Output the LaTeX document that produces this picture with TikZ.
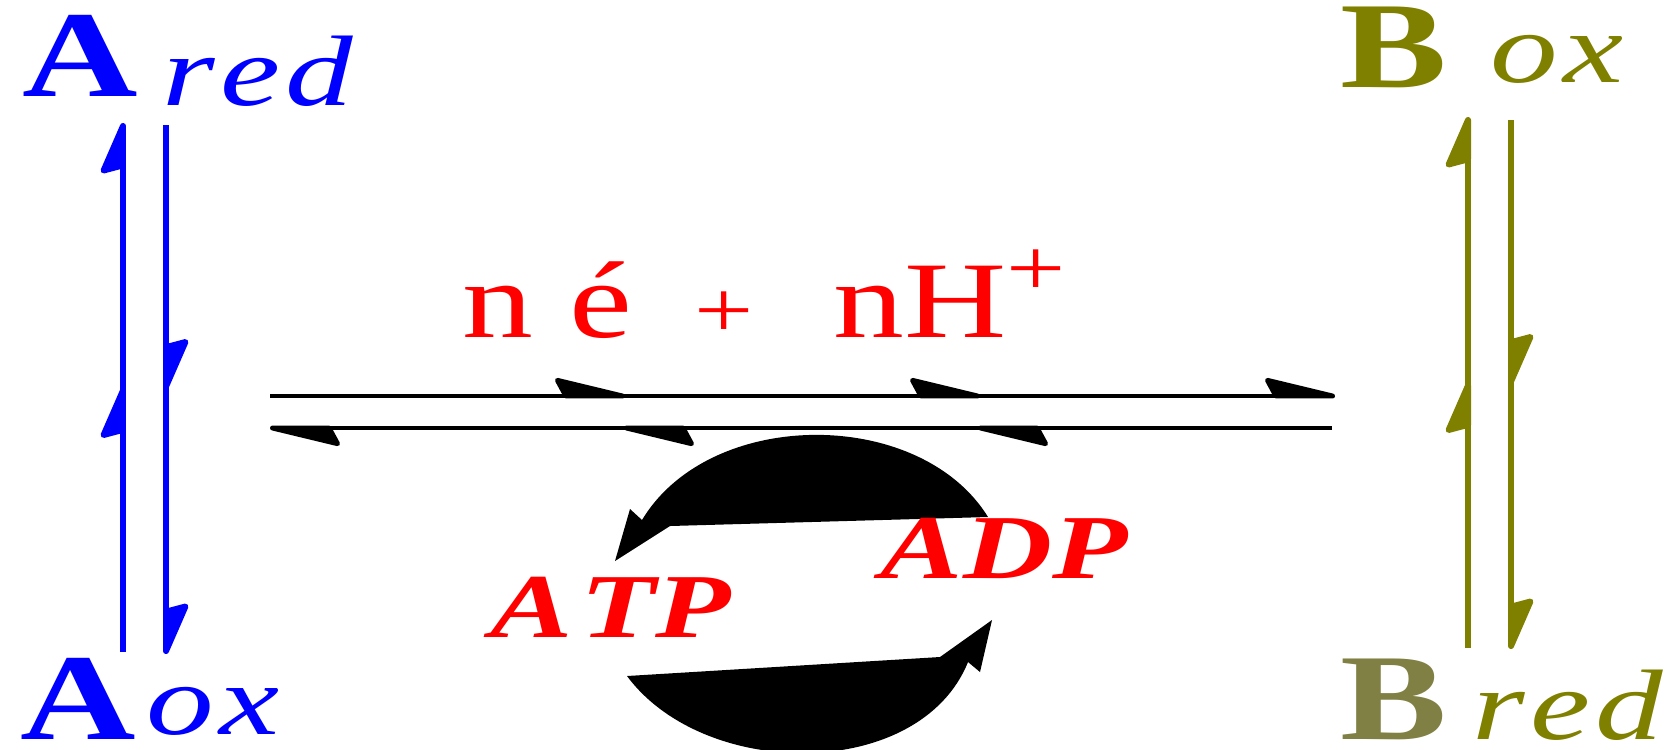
\documentclass[tikz,border=0pt]{standalone}
\usepackage{fontspec}
\setmainfont{Liberation Serif}
\usetikzlibrary{arrows.meta,decorations.markings}
\definecolor{olivedrab}{RGB}{128,128,0}
\definecolor{olivegrey}{RGB}{128,128,68}

\begin{document}
\begin{tikzpicture}[
    vh/.tip={Stealth[harpoon, length=5.6mm, width=4.8mm, inset=0.6mm, round]},
    hh/.tip={Stealth[harpoon, length=8mm, width=3.8mm, inset=1mm, round]},
    bigletter/.style={anchor=base west, inner sep=0pt, xscale=1.3, font=\fontsize{35}{42}\selectfont\bfseries},
    subscr/.style={anchor=base west, inner sep=0pt, xscale=1.35, font=\fontsize{28.5}{34}\selectfont\itshape},
    nucleo/.style={anchor=base west, inner sep=0pt, xscale=1.35, text=red, font=\fontsize{26}{31}\selectfont\bfseries\itshape},
    midhead/.style={postaction={decorate}, decoration={markings, mark=at position 0.5 with {\arrow{vh}}}},
    thirdheads/.style={postaction={decorate}, decoration={markings,
        mark=at position 0.3333 with {\arrow{hh}}, mark=at position 0.6667 with {\arrow{hh}}}},
]
    \useasboundingbox (0,0) rectangle (16.75,7.49);

    % Redox couple A (left)
    \node[bigletter, blue] (Atop) at (0.22,6.53) {A};
    \node[subscr, blue] (Atopsub) at (1.62,6.44) {r\kern1pt e\kern1pt d};
    \node[bigletter, blue] (Abot) at (0.20,0.10) {A};
    \node[subscr, blue] (Abotsub) at (1.46,0.15) {o\kern1pt x};

    % Redox couple B (right)
    \node[bigletter, olivedrab] (Btop) at (13.40,6.62) {B};
    \node[subscr, olivedrab] (Btopsub) at (14.90,6.67) {o\kern1pt x};
    \node[bigletter, olivegrey] (Bbot) at (13.40,0.10) {B};
    \node[subscr, olivedrab] (Bbotsub) at (14.72,0.10) {r\kern1pt e\kern1pt d};

    % Line ends
    \coordinate (aup0) at (1.23,0.97);
    \coordinate (aup1) at (1.23,6.26);
    \coordinate (adn0) at (1.66,6.24);
    \coordinate (adn1) at (1.66,0.95);
    \coordinate (bup0) at (14.68,1.01);
    \coordinate (bup1) at (14.68,6.32);
    \coordinate (bdn0) at (15.11,6.29);
    \coordinate (bdn1) at (15.11,1.00);
    \coordinate (fw0) at (2.70,3.53);
    \coordinate (fw1) at (13.35,3.53);
    \coordinate (bw0) at (13.32,3.21);
    \coordinate (bw1) at (2.70,3.21);

    % Vertical equilibria
    \draw[blue, line width=1.7pt, -vh, midhead] (aup0) -- (aup1);
    \draw[blue, line width=1.7pt, -vh, midhead] (adn0) -- (adn1);
    \draw[olivedrab, line width=1.7pt, -vh, midhead] (bup0) -- (bup1);
    \draw[olivedrab, line width=1.7pt, -vh, midhead] (bdn0) -- (bdn1);

    % Electron and proton transfer
    \node[anchor=base west, inner sep=0pt, xscale=1.3, text=red, font=\fontsize{31}{37}\selectfont] (carriers)
        at (4.62,4.12) {n é\hspace{13.7pt}{\fontsize{23}{28}\selectfont +}\hspace{17.5pt}nH\raisebox{0.42cm}{\fontsize{23}{28}\selectfont +}};
    \draw[line width=1.4pt, -hh, thirdheads] (fw0) -- (fw1);
    \draw[line width=1.4pt, -hh, thirdheads] (bw0) -- (bw1);

    % ATP / ADP cycle
    \fill (6.70,2.23) -- (9.88,2.32) .. controls (9.2,3.42) and (7.1,3.42) .. (6.42,2.29)
        -- (6.30,2.40) -- (6.15,1.88) -- cycle;
    \fill (6.27,0.73) -- (9.40,0.92) -- (9.92,1.29) -- (9.80,0.77) -- (9.68,0.87)
        .. controls (9.2,-0.32) and (7.05,-0.32) .. (6.27,0.73) -- cycle;
    \node[nucleo] (atp) at (4.90,1.12) {A\kern1.5pt TP};
    \node[nucleo] (adp) at (8.80,1.71) {ADP};
\end{tikzpicture}
\end{document}
